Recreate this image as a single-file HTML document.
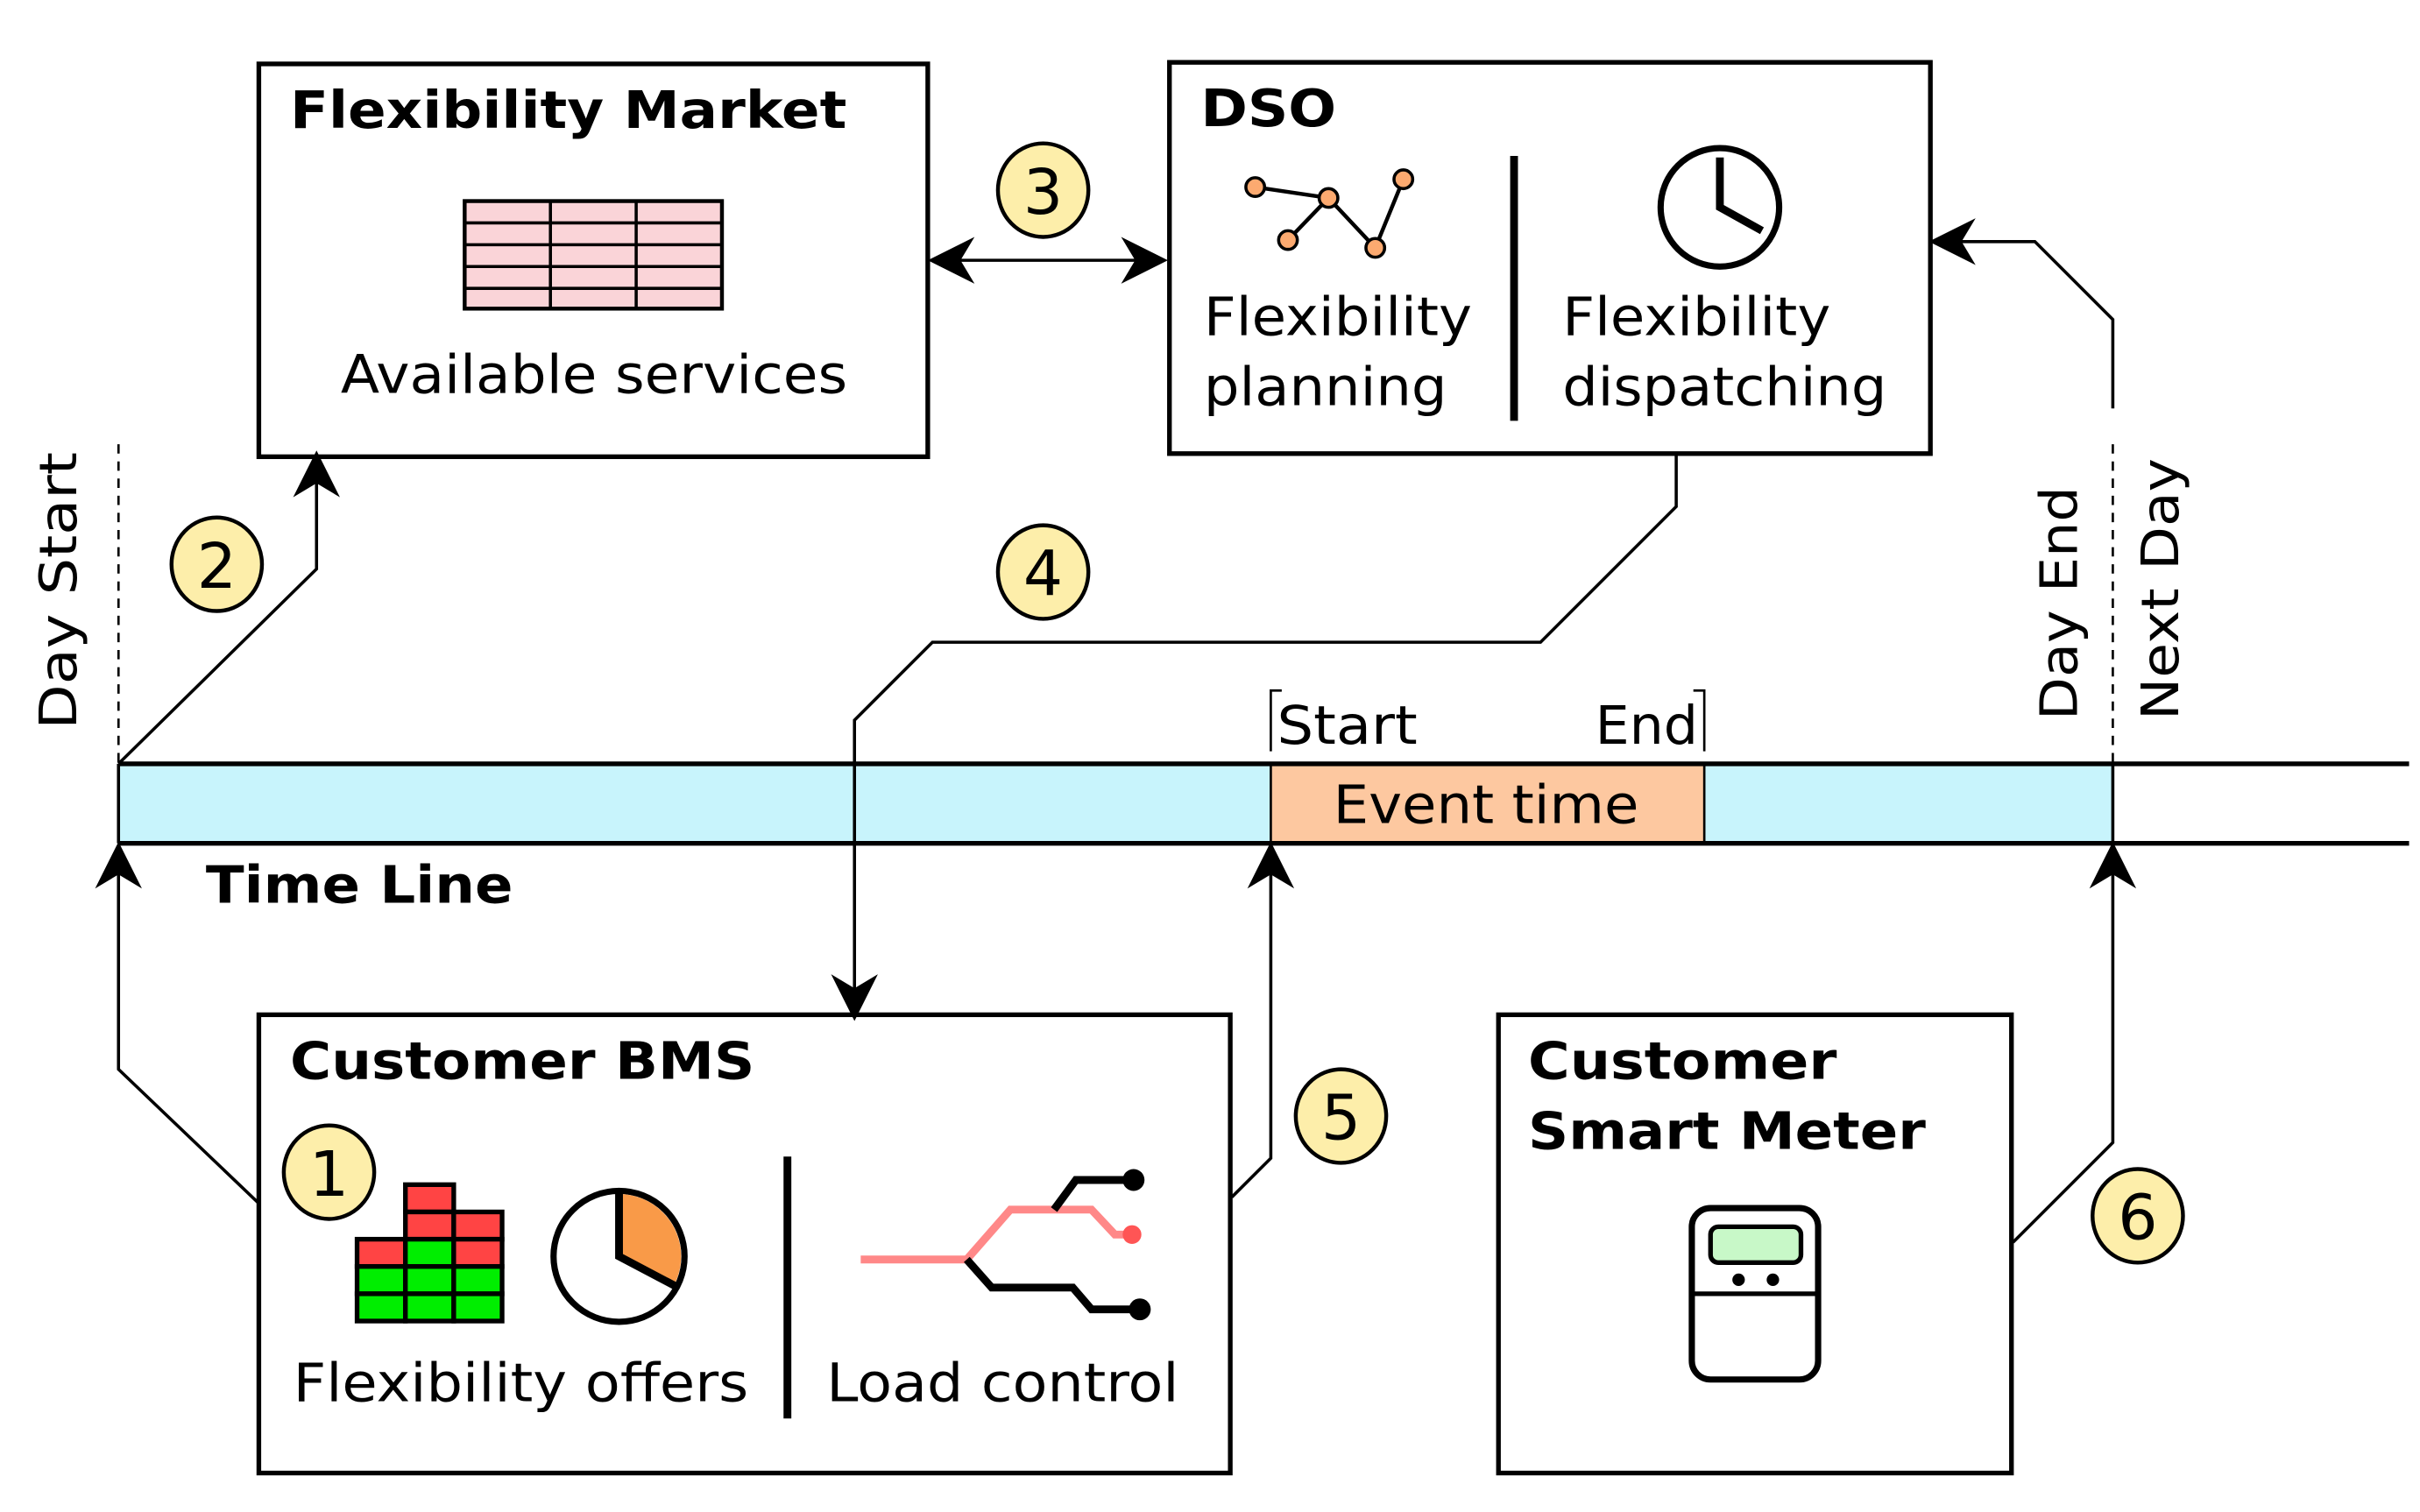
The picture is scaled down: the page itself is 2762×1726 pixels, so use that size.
<!DOCTYPE html>
<html><head><meta charset="utf-8"><style>html,body{margin:0;padding:0;background:#fff}svg{display:block}</style></head><body>
<svg width="2762" height="1726" viewBox="0 0 1552 970" preserveAspectRatio="none" xmlns="http://www.w3.org/2000/svg" font-family="'DejaVu Sans','Liberation Sans',sans-serif">
<defs>
<marker id="ah" viewBox="0 0 10 10" refX="9" refY="5" markerWidth="10" markerHeight="10" markerUnits="userSpaceOnUse" orient="auto"><path d="M0,0 L10,5 L0,10 L3,5 Z" fill="#000"/></marker>
<marker id="ah2" viewBox="0 0 10 10" refX="9" refY="5" markerWidth="38" markerHeight="30" markerUnits="userSpaceOnUse" orient="auto-start-reverse"><path d="M0,0 L10,5 L0,10 L3,5 Z" fill="#000"/></marker>
</defs>
<!-- timeline -->
<rect x="76" y="490" width="1279" height="51" fill="#c8f4fc"/>
<rect x="815" y="490" width="278" height="51" fill="#fdc8a0" stroke="#000" stroke-width="1.5"/>
<line x1="76" y1="490" x2="1545" y2="490" stroke="#000" stroke-width="3"/>
<line x1="76" y1="541" x2="1545" y2="541" stroke="#000" stroke-width="3"/>
<line x1="76" y1="490" x2="76" y2="541" stroke="#000" stroke-width="2"/>
<line x1="1355" y1="490" x2="1355" y2="541" stroke="#000" stroke-width="2"/>
<text x="953" y="528" font-size="34" text-anchor="middle" textLength="196" lengthAdjust="spacingAndGlyphs">Event time</text>
<path d="M822,443 H815 V482" fill="none" stroke="#000" stroke-width="1.5"/>
<path d="M1086,443 H1093 V482" fill="none" stroke="#000" stroke-width="1.5"/>
<text x="819" y="477" font-size="34" textLength="90" lengthAdjust="spacingAndGlyphs">Start</text>
<text x="1023" y="477" font-size="34" textLength="66" lengthAdjust="spacingAndGlyphs">End</text>
<text x="132" y="579" font-size="33" font-weight="bold" textLength="197" lengthAdjust="spacingAndGlyphs">Time Line</text>
<!-- dashed -->
<line x1="76" y1="285" x2="76" y2="490" stroke="#000" stroke-width="1.5" stroke-dasharray="6,5"/>
<line x1="1355" y1="285" x2="1355" y2="490" stroke="#000" stroke-width="1.5" stroke-dasharray="6,5"/>
<text transform="translate(49,468) rotate(-90)" font-size="33" textLength="178" lengthAdjust="spacingAndGlyphs">Day Start</text>
<text transform="translate(1332,462) rotate(-90)" font-size="33" textLength="150" lengthAdjust="spacingAndGlyphs">Day End</text>
<text transform="translate(1397,462) rotate(-90)" font-size="33" textLength="168" lengthAdjust="spacingAndGlyphs">Next Day</text>
<!-- Flexibility Market -->
<rect x="166" y="41" width="429" height="252" fill="#fff" stroke="#000" stroke-width="3"/>
<text x="186" y="82" font-size="33" font-weight="bold" textLength="357" lengthAdjust="spacingAndGlyphs">Flexibility Market</text>
<g stroke="#000" stroke-width="2.5" fill="#fad4d8">
<rect x="298" y="129" width="165" height="69"/>
</g>
<g stroke="#000" stroke-width="2">
<line x1="353" y1="129" x2="353" y2="198"/><line x1="408" y1="129" x2="408" y2="198"/>
<line x1="298" y1="143" x2="463" y2="143"/><line x1="298" y1="157" x2="463" y2="157"/><line x1="298" y1="171" x2="463" y2="171"/><line x1="298" y1="185" x2="463" y2="185"/>
</g>
<text x="381" y="252" font-size="34" text-anchor="middle" textLength="325" lengthAdjust="spacingAndGlyphs">Available services</text>
<!-- DSO -->
<rect x="750" y="40" width="488" height="251" fill="#fff" stroke="#000" stroke-width="3"/>
<text x="770" y="81" font-size="33" font-weight="bold" textLength="87" lengthAdjust="spacingAndGlyphs">DSO</text>
<line x1="971" y1="100" x2="971" y2="270" stroke="#000" stroke-width="5"/>
<polyline points="805,120 852,127 826,154 852,127 882,159 900,115" fill="none" stroke="#000" stroke-width="2.5"/>
<g fill="#fcaa70" stroke="#000" stroke-width="2"><circle cx="805" cy="120" r="6"/><circle cx="852" cy="127" r="6"/><circle cx="826" cy="154" r="6"/><circle cx="882" cy="159" r="6"/><circle cx="900" cy="115" r="6"/></g>
<circle cx="1103" cy="133" r="38" fill="#fff" stroke="#000" stroke-width="4"/>
<path d="M1103,101 V133 L1130,148" fill="none" stroke="#000" stroke-width="5"/>
<text x="772" y="215" font-size="34" textLength="172" lengthAdjust="spacingAndGlyphs">Flexibility</text>
<text x="772" y="260" font-size="34" textLength="156" lengthAdjust="spacingAndGlyphs">planning</text>
<text x="1002" y="215" font-size="34" textLength="172" lengthAdjust="spacingAndGlyphs">Flexibility</text>
<text x="1002" y="260" font-size="34" textLength="208" lengthAdjust="spacingAndGlyphs">dispatching</text>
<!-- BMS -->
<rect x="166" y="651" width="623" height="294" fill="#fff" stroke="#000" stroke-width="3"/>
<text x="186" y="692" font-size="33" font-weight="bold" textLength="298" lengthAdjust="spacingAndGlyphs">Customer BMS</text>
<line x1="505" y1="742" x2="505" y2="910" stroke="#000" stroke-width="5"/>
<g stroke="#000" stroke-width="3">
<rect x="260" y="760" width="31" height="17.5" fill="#f44"/>
<rect x="260" y="777.5" width="31" height="17.5" fill="#f44"/><rect x="291" y="777.5" width="31" height="17.5" fill="#f44"/>
<rect x="229" y="795" width="31" height="17.5" fill="#f44"/><rect x="260" y="795" width="31" height="17.5" fill="#0e0"/><rect x="291" y="795" width="31" height="17.5" fill="#f44"/>
<rect x="229" y="812.5" width="31" height="17.5" fill="#0e0"/><rect x="260" y="812.5" width="31" height="17.5" fill="#0e0"/><rect x="291" y="812.5" width="31" height="17.5" fill="#0e0"/>
<rect x="229" y="830" width="31" height="17.5" fill="#0e0"/><rect x="260" y="830" width="31" height="17.5" fill="#0e0"/><rect x="291" y="830" width="31" height="17.5" fill="#0e0"/>
</g>
<circle cx="397" cy="806" r="42" fill="#fff" stroke="#000" stroke-width="4"/>
<path d="M397,806 V766 A40,40 0 0,1 433,823 Z" fill="#f99a48"/>
<path d="M397,766 V806 L433,825" fill="none" stroke="#000" stroke-width="5"/>
<polyline points="552,808 620,808 648,776 700,776 715,792 726,792" fill="none" stroke="#f88" stroke-width="5"/>
<circle cx="726" cy="792" r="6" fill="#f55"/>
<polyline points="620,808 636,826 688,826 700,840 730,840" fill="none" stroke="#000" stroke-width="5"/>
<circle cx="731" cy="840" r="7" fill="#000"/>
<polyline points="676,776 690,757 725,757" fill="none" stroke="#000" stroke-width="5"/>
<circle cx="727" cy="757" r="7" fill="#000"/>
<text x="188" y="899" font-size="34" textLength="292" lengthAdjust="spacingAndGlyphs">Flexibility offers</text>
<text x="530" y="899" font-size="34" textLength="226" lengthAdjust="spacingAndGlyphs">Load control</text>
<!-- Smart Meter -->
<rect x="961" y="651" width="329" height="294" fill="#fff" stroke="#000" stroke-width="3"/>
<text x="980" y="692" font-size="33" font-weight="bold" textLength="198" lengthAdjust="spacingAndGlyphs">Customer</text>
<text x="980" y="737" font-size="33" font-weight="bold" textLength="255" lengthAdjust="spacingAndGlyphs">Smart Meter</text>
<rect x="1085" y="775" width="81" height="110" rx="12" fill="#fff" stroke="#000" stroke-width="4"/>
<rect x="1097" y="787" width="58" height="23" rx="5" fill="#c8f8c8" stroke="#000" stroke-width="3"/>
<circle cx="1115" cy="821" r="4" fill="#000"/><circle cx="1137" cy="821" r="4" fill="#000"/>
<line x1="1085" y1="830" x2="1166" y2="830" stroke="#000" stroke-width="3"/>
<!-- connectors -->
<g fill="none" stroke="#000" stroke-width="2">
<line x1="598" y1="167" x2="746" y2="167" marker-start="url(#ah2)" marker-end="url(#ah2)"/>
<polyline points="76,490 203,365 203,292" marker-end="url(#ah2)"/>
<polyline points="1075,291 1075,325 988,412 598,412 548,462 548,652" marker-end="url(#ah2)"/>
<polyline points="166,772 76,686 76,543" marker-end="url(#ah2)"/>
<polyline points="790,768 815,743 815,543" marker-end="url(#ah2)"/>
<polyline points="1291,797 1355,733 1355,543" marker-end="url(#ah2)"/>
<polyline points="1355,262 1355,205 1305,155 1240,155" marker-end="url(#ah2)"/>
</g>
<!-- numbered circles -->
<g fill="#fdeeaa" stroke="#000" stroke-width="2.5">
<ellipse cx="211" cy="752" rx="29" ry="30"/><ellipse cx="139" cy="362" rx="29" ry="30"/><ellipse cx="669" cy="122" rx="29" ry="30"/>
<ellipse cx="669" cy="367" rx="29" ry="30"/><ellipse cx="860" cy="716" rx="29" ry="30"/><ellipse cx="1371" cy="780" rx="29" ry="30"/>
</g>
<g font-size="40" text-anchor="middle">
<text x="211" y="767">1</text><text x="139" y="377">2</text><text x="669" y="137">3</text>
<text x="669" y="382">4</text><text x="860" y="731">5</text><text x="1371" y="795">6</text>
</g>
</svg>
</body></html>
